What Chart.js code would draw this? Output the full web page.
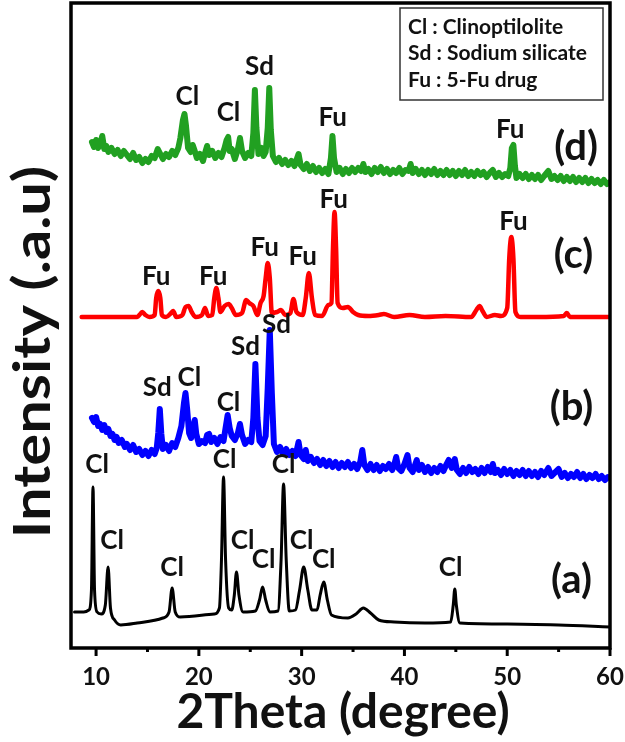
<!DOCTYPE html>
<html><head><meta charset="utf-8">
<script src="https://cdn.jsdelivr.net/npm/chart.js@4/dist/chart.umd.min.js"></script>
<style>html,body{margin:0;padding:0;background:#fff;overflow:hidden}</style>
</head><body>
<canvas id="c" width="625" height="742"></canvas>
<script>
// ---- axis ----
const xTicks = [10, 20, 30, 40, 50, 60];
const xMinorTicks = [15, 25, 35, 45, 55];
const xTitle = '2Theta (degree)';
const yTitle = 'Intensity (.a.u)';

// ---- (a) Clinoptilolite: [2theta, intensity] ----
const traceA = [[7.9,36],[8.8,36],[9.3,38],[9.55,58],[9.7,161],[9.85,58],[10.1,36],[10.5,34],[10.9,43],[11.17,81],[11.4,40],[11.8,28],[12.4,23],[14,25],[16.5,30],[17.1,36],[17.4,60],[17.7,36],[18.2,31],[21.5,34],[22.0,40],[22.2,88],[22.4,171],[22.6,88],[22.9,40],[23.2,38],[23.45,53],[23.66,76],[23.9,53],[24.3,36],[25.5,37],[25.9,48],[26.2,61],[26.5,48],[26.9,36],[27.7,37],[28.0,88],[28.24,164],[28.5,88],[28.8,37],[29.4,38],[29.8,58],[30.2,81],[30.6,58],[31.0,38],[31.5,38],[31.8,53],[32.15,66],[32.5,48],[32.9,33],[34.5,30],[35.3,34],[36.0,40],[36.7,35],[37.5,28],[39,26],[42,25],[44.5,26],[44.75,43],[44.9,59],[45.05,43],[45.4,25],[50,24],[55,23],[60,21]];

// ---- (b) ----
const traceB = [[9.6,230],[9.8,226],[10.0,231],[10.2,222],[10.4,224],[10.6,218],[10.8,223],[11.0,216],[11.2,219],[11.4,212],[11.6,214],[11.8,208],[12.0,211],[12.2,205],[12.5,208],[12.8,201],[13.0,204],[13.3,198],[13.6,203],[13.9,196],[14.2,199],[14.5,193],[14.8,197],[15.1,192],[15.4,198],[15.7,194],[15.9,200],[16.05,215],[16.2,239],[16.35,214],[16.5,199],[16.8,203],[17.1,197],[17.4,205],[17.7,201],[18.0,210],[18.3,222],[18.55,245],[18.7,255],[18.85,240],[19.05,215],[19.25,210],[19.45,222],[19.6,228],[19.75,214],[20.0,204],[20.3,207],[20.6,205],[20.8,213],[21.0,214],[21.2,206],[21.5,210],[21.8,204],[22.1,211],[22.4,207],[22.6,220],[22.8,233],[23.0,220],[23.2,212],[23.5,208],[23.8,215],[24.0,224],[24.2,213],[24.5,204],[24.8,208],[25.1,206],[25.3,230],[25.5,284],[25.7,230],[25.9,207],[26.2,203],[26.5,212],[26.7,260],[26.9,318],[27.1,255],[27.3,204],[27.6,196],[27.9,201],[28.2,194],[28.5,199],[28.8,193],[29.1,197],[29.4,192],[29.7,206],[29.9,193],[30.2,189],[30.4,198],[30.6,187],[30.9,191],[31.2,185],[31.5,189],[31.8,183],[32.1,188],[32.4,182],[32.7,187],[33.0,181],[33.3,186],[33.6,180],[33.9,185],[34.2,181],[34.5,186],[34.8,180],[35.1,184],[35.4,179],[35.7,186],[35.9,198],[36.1,183],[36.4,178],[36.7,184],[37.0,178],[37.3,183],[37.6,177],[37.9,182],[38.2,179],[38.5,184],[38.8,178],[39.0,183],[39.2,191],[39.4,180],[39.7,177],[40.0,184],[40.3,193],[40.5,180],[40.8,176],[41.0,182],[41.2,188],[41.4,178],[41.7,183],[42.0,176],[42.3,181],[42.6,175],[42.9,180],[43.2,176],[43.5,182],[43.8,177],[44.1,184],[44.3,188],[44.6,180],[44.9,189],[45.1,178],[45.4,174],[45.7,180],[46.0,175],[46.3,181],[46.6,176],[46.9,179],[47.2,174],[47.5,180],[47.8,175],[48.1,181],[48.4,176],[48.6,184],[48.8,175],[49.1,178],[49.4,173],[49.7,179],[50.0,174],[50.3,178],[50.6,172],[50.9,177],[51.2,173],[51.5,178],[51.8,172],[52.1,177],[52.4,172],[52.7,176],[53.0,171],[53.3,177],[53.6,173],[54.0,180],[54.3,172],[54.6,175],[55.0,179],[55.3,171],[55.6,175],[55.9,170],[56.2,174],[56.5,171],[56.8,176],[57.1,170],[57.4,174],[57.7,169],[58.0,173],[58.3,170],[58.6,174],[58.9,169],[59.2,172],[59.5,168],[59.8,171],[60.0,170]];

// ---- (c) 5-Fu ----
const traceC = [[8.6,331],[10,331],[12,331],[14.0,331],[14.3,334],[14.5,336],[14.8,333],[15.2,331],[15.7,333],[15.85,350],[16.05,357],[16.25,350],[16.4,333],[16.8,331],[17.3,335],[17.5,337],[17.8,331],[18.4,333],[18.7,341],[19.0,342],[19.3,336],[19.7,331],[20.3,333],[20.6,340],[20.9,332],[21.3,333],[21.5,350],[21.7,360],[21.9,350],[22.1,336],[22.5,342],[22.9,344],[23.2,340],[23.6,333],[24.2,335],[24.6,348],[24.9,345],[25.3,342],[25.7,333],[26.0,345],[26.3,352],[26.5,370],[26.7,385],[26.9,370],[27.1,335],[27.6,336],[28.0,338],[28.4,333],[28.9,335],[29.2,349],[29.5,336],[30.1,333],[30.4,350],[30.7,375],[31.0,350],[31.3,333],[32.0,332],[32.6,343],[32.9,345],[33.05,400],[33.2,436],[33.35,400],[33.5,345],[34.0,340],[34.5,341],[35.0,336],[35.5,333],[36.5,332],[37.5,333],[38,334],[39,331],[40.5,333],[42,331],[44,332],[46.5,331],[47.0,338],[47.3,342],[47.6,337],[48,331],[48.8,333],[49.4,332],[50.0,340],[50.2,390],[50.4,411],[50.6,390],[50.8,336],[51.3,331],[53,331],[55.5,332],[55.8,335],[56.1,331],[58,331],[60,331]];

// ---- (d) ----
const traceD = [[9.6,506],[9.8,501],[10.0,508],[10.2,500],[10.4,504],[10.6,512],[10.8,499],[11.0,502],[11.2,496],[11.5,500],[11.8,494],[12.1,498],[12.4,492],[12.7,497],[13.0,493],[13.3,489],[13.6,495],[13.9,488],[14.2,491],[14.5,485],[14.8,489],[15.1,486],[15.4,492],[15.7,490],[16.0,499],[16.2,495],[16.5,489],[16.8,494],[17.1,491],[17.4,497],[17.7,493],[18.0,500],[18.2,510],[18.45,528],[18.6,534],[18.75,522],[18.95,500],[19.2,496],[19.4,503],[19.6,497],[19.8,490],[20.1,494],[20.4,487],[20.6,495],[20.8,502],[21.0,493],[21.3,497],[21.6,490],[21.9,495],[22.2,491],[22.5,500],[22.7,508],[22.85,511],[23.0,497],[23.2,499],[23.5,489],[23.8,499],[24.0,510],[24.2,497],[24.5,490],[24.8,495],[25.1,492],[25.3,515],[25.45,558],[25.6,520],[25.8,494],[26.1,500],[26.3,492],[26.5,496],[26.7,520],[26.85,560],[27.0,518],[27.2,492],[27.5,486],[27.8,490],[28.1,484],[28.4,488],[28.7,483],[29.0,487],[29.3,482],[29.5,488],[29.7,494],[29.9,483],[30.2,479],[30.5,484],[30.8,477],[31.1,482],[31.4,476],[31.7,480],[32.0,475],[32.3,479],[32.6,474],[32.85,490],[33.0,512],[33.15,490],[33.4,476],[33.7,480],[34.0,474],[34.3,479],[34.6,475],[34.9,480],[35.2,476],[35.5,480],[35.8,477],[36.0,484],[36.2,476],[36.5,479],[36.8,474],[37.1,480],[37.4,476],[37.7,481],[38.0,475],[38.3,479],[38.6,474],[38.9,478],[39.2,475],[39.5,480],[39.8,474],[40.1,478],[40.4,477],[40.6,484],[40.8,475],[41.1,479],[41.4,474],[41.7,478],[42.0,473],[42.3,478],[42.6,474],[42.9,479],[43.2,473],[43.5,477],[43.8,473],[44.1,478],[44.4,473],[44.7,477],[45.0,472],[45.3,477],[45.6,473],[45.9,478],[46.2,472],[46.5,476],[46.8,472],[47.1,477],[47.4,473],[47.7,476],[48.0,471],[48.3,475],[48.6,478],[48.9,471],[49.2,475],[49.5,471],[49.8,474],[50.1,472],[50.3,480],[50.45,500],[50.6,503],[50.75,482],[50.9,470],[51.2,474],[51.5,470],[51.8,474],[52.1,469],[52.4,473],[52.7,469],[53.0,473],[53.3,468],[53.6,472],[54.0,477],[54.3,469],[54.6,472],[54.9,468],[55.2,472],[55.5,467],[55.8,471],[56.1,467],[56.4,471],[56.7,466],[57.0,470],[57.3,466],[57.6,470],[57.9,465],[58.2,469],[58.5,465],[58.8,468],[59.1,464],[59.4,468],[59.7,464],[60.0,466]];

// ---- peak labels [text, 2theta, intensity] ----
const peakLabels = [
  ['Cl',10.1,183],['Cl',11.56,107],['Cl',17.4,80],['Cl',22.5,188],['Cl',24.25,107],['Cl',26.3,88],['Cl',28.25,183],['Cl',30.0,107],['Cl',32.15,88],['Cl',44.5,80],
  ['Sd',15.95,260],['Cl',19.07,270],['Cl',22.88,245],['Sd',24.54,301],['Sd',27.56,323],
  ['Fu',15.85,371],['Fu',21.4,371],['Fu',26.4,400],['Fu',30.1,391],['Fu',33.12,448],['Fu',50.6,426],
  ['Cl',18.88,551],['Cl',22.88,535],['Sd',25.9,581],['Fu',33.02,530],['Fu',50.3,518]
];
const traceNames = [['(a)',56.25,68],['(b)',56.25,241],['(c)',56.45,393],['(d)',56.7,501]];
const legendLines = ['Cl : Clinoptilolite','Sd : Sodium silicate','Fu : 5-Fu drug'];

const toXY = arr => arr.map(([x, y]) => ({x, y}));
const FONT = 'Lato, "Open Sans", sans-serif';

const decor = {
  id: 'decor',
  afterDatasetsDraw(chart) {
    const {ctx, chartArea: a, scales: {x, y}} = chart;
    ctx.save();
    // frame
    ctx.strokeStyle = '#000';
    ctx.lineWidth = 3.5;
    ctx.strokeRect(a.left, a.top, a.right - a.left, a.bottom - a.top);
    // ticks
    ctx.lineWidth = 3;
    xTicks.forEach(v => { const px = x.getPixelForValue(v); ctx.beginPath(); ctx.moveTo(px, a.bottom); ctx.lineTo(px, a.bottom + 8); ctx.stroke(); });
    xMinorTicks.forEach(v => { const px = x.getPixelForValue(v); ctx.beginPath(); ctx.moveTo(px, a.bottom); ctx.lineTo(px, a.bottom + 4); ctx.stroke(); });
    // peak labels
    ctx.fillStyle = '#111';
    ctx.textAlign = 'center';
    ctx.textBaseline = 'middle';
    ctx.font = 'bold 26px ' + FONT;
    peakLabels.forEach(([t, vx, vy]) => ctx.fillText(t, x.getPixelForValue(vx), y.getPixelForValue(vy)));
    ctx.font = 'bold 40px ' + FONT;
    traceNames.forEach(([t, vx, vy]) => ctx.fillText(t, x.getPixelForValue(vx), y.getPixelForValue(vy)));
    // legend box
    ctx.lineWidth = 1.5;
    ctx.strokeStyle = '#333';
    ctx.fillStyle = '#fff';
    ctx.fillRect(400, 8, 203, 92);
    ctx.strokeRect(400, 8, 203, 92);
    ctx.fillStyle = '#111';
    ctx.textAlign = 'left';
    ctx.font = 'bold 21px ' + FONT;
    legendLines.forEach((t, i) => ctx.fillText(t, 408, 27 + i * 26.5));
    // axis titles
    ctx.textAlign = 'center';
    ctx.font = 'bold 48px ' + FONT;
    ctx.fillText(xTitle, 343, 713);
    ctx.translate(34, 352);
    ctx.rotate(-Math.PI / 2);
    ctx.scale(1.17, 1);
    ctx.font = 'bold 51px ' + FONT;
    ctx.fillText(yTitle, 0, 0);
    ctx.restore();
  }
};

new Chart(document.getElementById('c'), {
  type: 'line',
  data: {
    datasets: [
      {data: toXY(traceA), borderColor: '#000000', borderWidth: 3, cubicInterpolationMode: 'monotone'},
      {data: toXY(traceB), borderColor: '#0000ff', borderWidth: 6},
      {data: toXY(traceC), borderColor: '#ff0000', borderWidth: 4.5, cubicInterpolationMode: 'monotone'},
      {data: toXY(traceD), borderColor: '#21a021', borderWidth: 6}
    ]
  },
  options: {
    responsive: false,
    animation: false,
    devicePixelRatio: 1,
    layout: {padding: {left: 71, right: 15, top: 3, bottom: 0}},
    elements: {point: {radius: 0}, line: {borderJoinStyle: 'round', borderCapStyle: 'round', tension: 0}},
    plugins: {legend: {display: false}, tooltip: {enabled: false}},
    scales: {
      x: {
        type: 'linear', min: 7.56, max: 60,
        afterBuildTicks: s => { s.ticks = xTicks.map(v => ({value: v})); },
        afterFit: s => { s.height = 94; s.paddingLeft = 0; s.paddingRight = 0; },
        grid: {display: false, drawTicks: false},
        border: {display: false},
        ticks: {padding: 15, color: '#111', font: {family: FONT, size: 24, weight: 'bold'}, maxRotation: 0, autoSkip: false}
      },
      y: {type: 'linear', min: 0, max: 645, display: false}
    }
  },
  plugins: [decor]
});
</script>
</body></html>
